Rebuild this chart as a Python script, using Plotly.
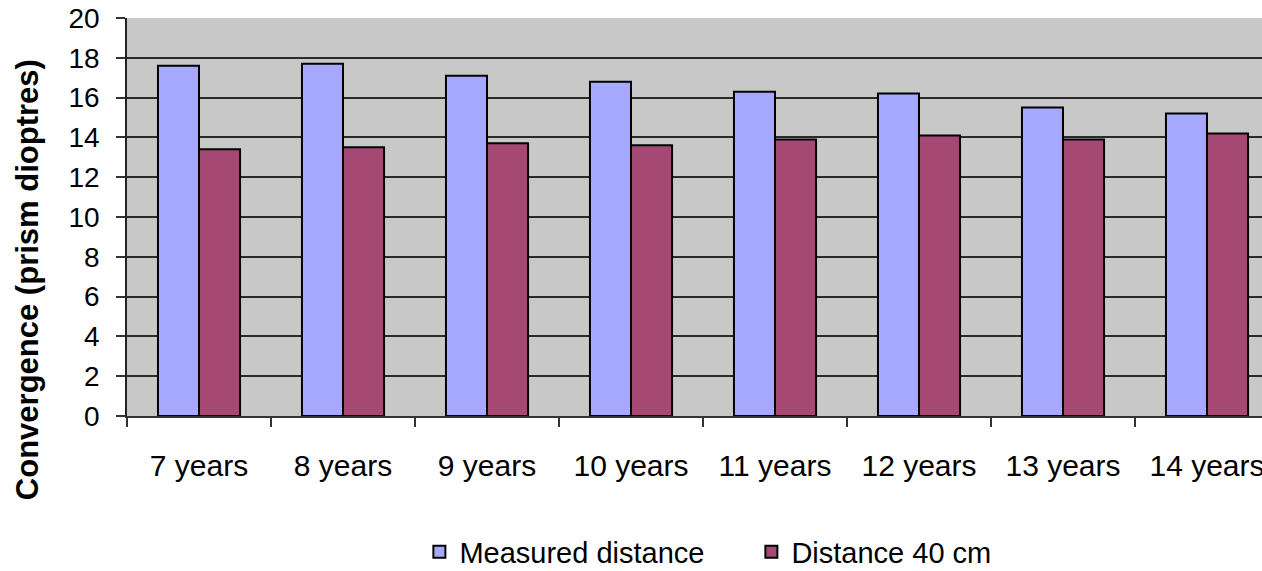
import plotly.graph_objects as go

categories = ["7 years", "8 years", "9 years", "10 years", "11 years", "12 years", "13 years", "14 years"]
measured_distance = [17.6, 17.7, 17.1, 16.8, 16.3, 16.2, 15.5, 15.2]
distance_40cm = [13.4, 13.5, 13.7, 13.6, 13.9, 14.1, 13.9, 14.2]
y_ticks = list(range(0, 21, 2))

FONT = "Liberation Sans, Arial, sans-serif"

fig = go.Figure()
fig.add_trace(go.Bar(
    x=categories, y=measured_distance, name="Measured distance",
    marker=dict(color="#A6A9FF", line=dict(color="#000000", width=2)),
))
fig.add_trace(go.Bar(
    x=categories, y=distance_40cm, name="Distance 40 cm",
    marker=dict(color="#A54874", line=dict(color="#000000", width=2)),
))

fig.update_layout(
    width=1262, height=571,
    margin=dict(l=127, r=0, t=18, b=155, autoexpand=False),
    paper_bgcolor="white",
    plot_bgcolor="#C8C8C8",
    barmode="group",
    bargap=0.43,
    bargroupgap=0,
    font=dict(family=FONT, color="#000000", size=29),
    showlegend=True,
    legend=dict(
        orientation="h", x=0.2576, xanchor="left", y=-0.3414, yanchor="middle",
        font=dict(size=29), bgcolor="rgba(0,0,0,0)", itemwidth=30,
        entrywidth=287, entrywidthmode="pixels",
    ),
    xaxis=dict(
        type="category",
        range=[-0.5, 7.382],
        tickson="boundaries",
        ticks="outside", ticklen=9, tickcolor="#333333", tickwidth=1.5,
        showline=True, linecolor="#333333", linewidth=1.5,
        showgrid=False,
        tickfont=dict(size=30),
        ticklabelstandoff=22,
    ),
    yaxis=dict(
        range=[0, 20],
        tickvals=y_ticks,
        ticks="outside", ticklen=9, tickcolor="#333333", tickwidth=1.5,
        showline=True, linecolor="#222222", linewidth=1.5,
        showgrid=True, gridcolor="#2a2a2a", gridwidth=1.6,
        zeroline=False,
        tickfont=dict(size=28),
        ticklabelstandoff=11,
    ),
    annotations=[dict(
        text="<b>Convergence (prism dioptres)</b>",
        xref="paper", yref="paper",
        x=-0.087, y=0.342, xanchor="center", yanchor="middle",
        textangle=-90, showarrow=False,
        font=dict(size=31, family=FONT),
    )],
)

# remove the default 8px page margin so the figure sits flush with the window
fig.write_html("out.html", config={"displayModeBar": False},
               post_script="document.body.style.margin='0';")
